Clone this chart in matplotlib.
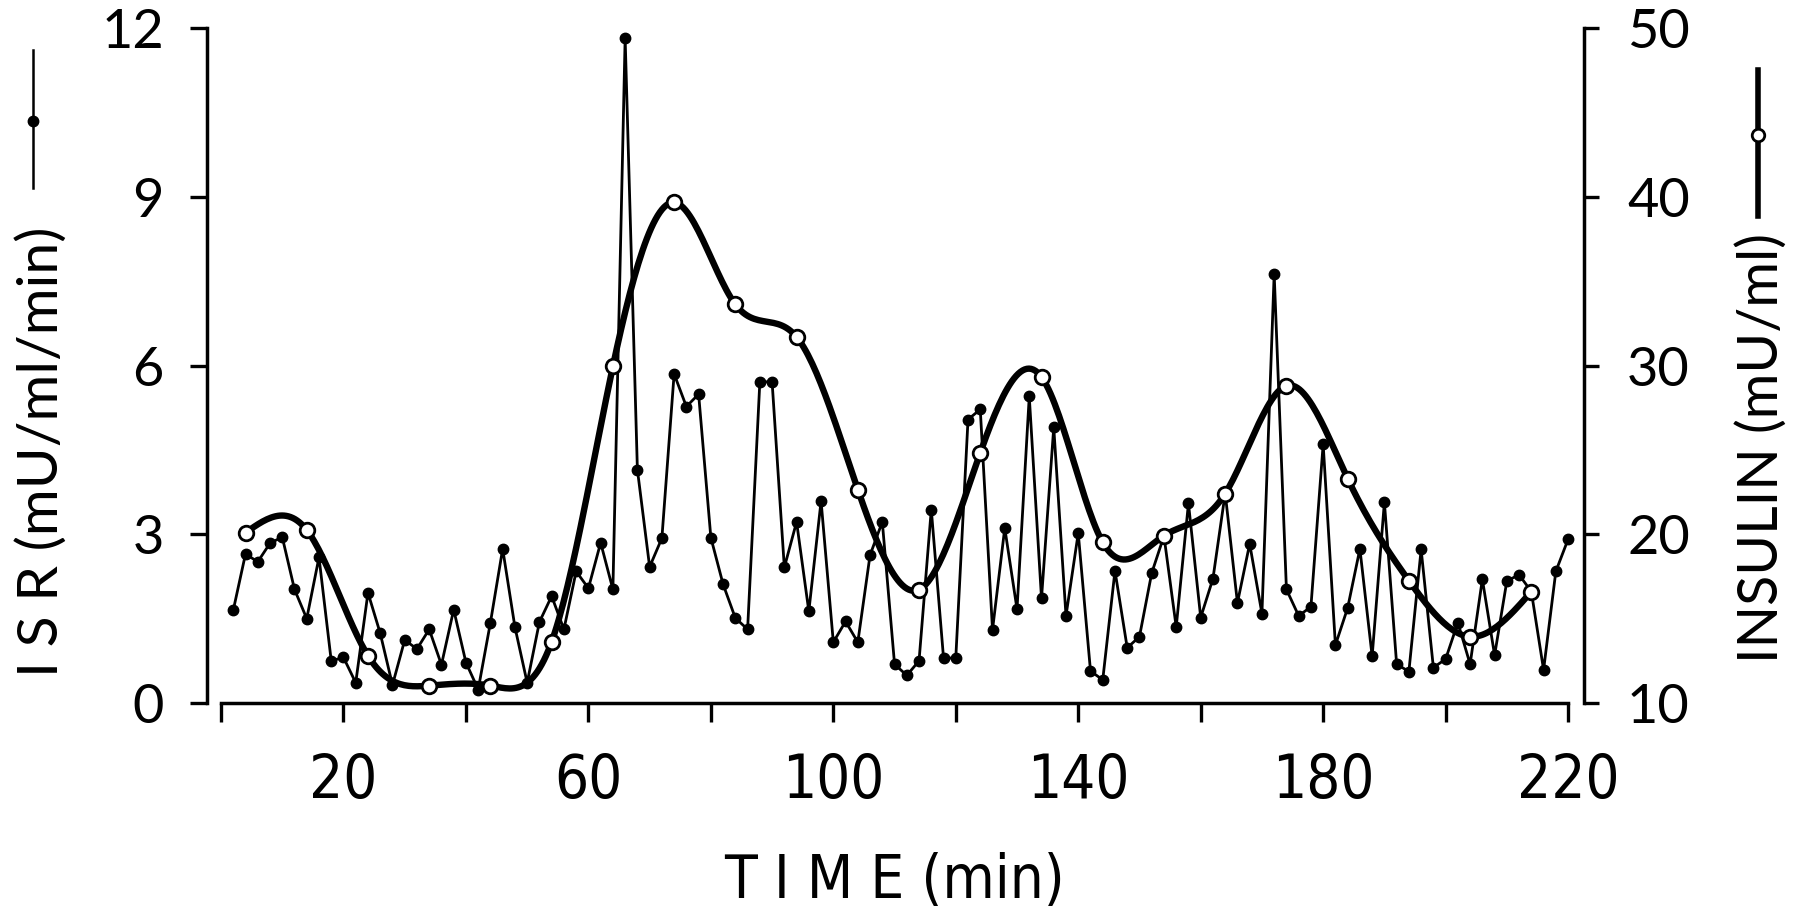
"""ISR and plasma insulin vs time, two y-axes (ISR left, insulin right)."""

import numpy as np
import matplotlib
matplotlib.use("Agg")
import matplotlib.pyplot as plt
from matplotlib import font_manager
from matplotlib.lines import Line2D

# ---- data ----
ISR_T = list(range(2, 221, 2))
ISR = [1.65, 2.65, 2.51, 2.84, 2.95, 2.02, 1.50, 2.59, 0.75, 0.81,
       0.36, 1.96, 1.24, 0.32, 1.12, 0.96, 1.31, 0.68, 1.66, 0.72,
       0.24, 1.43, 2.74, 1.35, 0.36, 1.44, 1.90, 1.31, 2.34, 2.04,
       2.85, 2.02, 11.82, 4.15, 2.42, 2.93, 5.85, 5.27, 5.49, 2.94,
       2.11, 1.51, 1.31, 5.71, 5.71, 2.41, 3.22, 1.63, 3.59, 1.08,
       1.45, 1.08, 2.63, 3.22, 0.69, 0.49, 0.75, 3.44, 0.80, 0.80,
       5.04, 5.22, 1.30, 3.11, 1.67, 5.45, 1.86, 4.90, 1.55, 3.02,
       0.57, 0.41, 2.35, 0.98, 1.18, 2.31, 2.97, 1.35, 3.55, 1.52,
       2.21, 3.73, 1.78, 2.83, 1.59, 7.63, 2.02, 1.55, 1.71, 4.60,
       1.03, 1.69, 2.74, 0.83, 3.57, 0.69, 0.56, 2.73, 0.63, 0.78,
       1.43, 0.69, 2.20, 0.85, 2.17, 2.28, 1.98, 0.59, 2.34, 2.91]

INS_T = list(range(4, 215, 10))
INSULIN = [20.09, 20.25, 12.80, 11.03, 11.03, 13.63, 29.95, 39.66, 33.62, 31.69,
           22.65, 16.72, 24.83, 29.32, 19.52, 19.92, 22.41, 28.80, 23.30, 17.25,
           13.93, 16.60]

XTICKS = list(range(0, 221, 20))
XTICK_LABELS = ["", "20", "", "60", "", "100", "", "140", "", "180", "", "220"]
YTICKS_ISR = [0, 3, 6, 9, 12]
YTICKS_INS = [10, 20, 30, 40, 50]

W, H = 1800, 923

fonts = font_manager.fontManager.ttflist
names = {f.name for f in fonts}
if "Liberation Sans Narrow" in names:
    NARROW = dict(family="Liberation Sans Narrow")
elif any(f.name == "DejaVu Sans" and f.stretch == "condensed" for f in fonts):
    NARROW = dict(family="DejaVu Sans", stretch="condensed")
else:
    NARROW = dict(family="Roboto")
ROUND = "Lato" if "Lato" in names else "DejaVu Sans"


def natural_spline(x, y, n=600):
    x = np.asarray(x, float)
    y = np.asarray(y, float)
    h = np.diff(x)
    m = len(x)
    A = np.zeros((m, m))
    b = np.zeros(m)
    A[0, 0] = A[-1, -1] = 1.0
    for i in range(1, m - 1):
        A[i, i - 1] = h[i - 1]
        A[i, i] = 2 * (h[i - 1] + h[i])
        A[i, i + 1] = h[i]
        b[i] = 6 * ((y[i + 1] - y[i]) / h[i] - (y[i] - y[i - 1]) / h[i - 1])
    M = np.linalg.solve(A, b)
    xs = np.linspace(x[0], x[-1], n)
    k = np.clip(np.searchsorted(x, xs) - 1, 0, m - 2)
    hk = x[k + 1] - x[k]
    a = (x[k + 1] - xs) / hk
    c = (xs - x[k]) / hk
    ys = a * y[k] + c * y[k + 1] + ((a ** 3 - a) * M[k] + (c ** 3 - c) * M[k + 1]) * hk ** 2 / 6
    return xs, ys


fig = plt.figure(figsize=(W / 100, H / 100), dpi=100)
ax = fig.add_axes([207 / W, 1 - 703 / H, (1584 - 207) / W, (703 - 28) / H])
ax.set_xlim(-2.29, 222.6)
ax.set_ylim(0, 12)

ax2 = ax.twinx()
ax2.set_ylim(10, 50)

# ISR: thin line, filled dots
ax.plot(ISR_T, ISR, color="black", lw=2.0, marker="o", ms=7.5, mfc="black",
        mec="black", zorder=3, clip_on=False)

# insulin: thick smoothed line through open circles
sx, sy = natural_spline(INS_T, INSULIN)
ax2.plot(sx, sy, color="black", lw=4.6, zorder=3, solid_capstyle="round")
ax2.plot(INS_T, INSULIN, "o", ms=10.5, mfc="white", mec="black", mew=2.0, zorder=4)

for s in ("top", "right"):
    ax.spines[s].set_visible(False)
for s in ("top", "left", "bottom"):
    ax2.spines[s].set_visible(False)
ax.spines["bottom"].set_bounds(0, 220)
for sp in (ax.spines["left"], ax.spines["bottom"], ax2.spines["right"]):
    sp.set_linewidth(2.5)

ax.set_xticks(XTICKS, XTICK_LABELS, fontsize=43, **NARROW)
ax.set_yticks(YTICKS_ISR, [str(v) for v in YTICKS_ISR], fontfamily=ROUND, fontsize=39)
ax2.set_yticks(YTICKS_INS, [str(v) for v in YTICKS_INS], fontfamily=ROUND, fontsize=39)
ax.tick_params(axis="x", direction="out", length=13.5, width=2.4, pad=22)
ax.tick_params(axis="y", direction="out", length=12, width=2.4, pad=19)
ax2.tick_params(axis="y", direction="out", length=11, width=2.4, pad=20)

fig.text(894 / W, 1 - 882 / H, "T I M E (min)", ha="center", va="center",
         fontsize=43, **NARROW)
fig.text(42 / W, 1 - 452 / H, "I S R (mU/ml/min)", rotation=90, ha="center",
         va="center", fontsize=41, family=ROUND)
fig.text(1762 / W, 1 - 448 / H, "INSULIN (mU/ml)", rotation=90, ha="center",
         va="center", fontsize=40, family=ROUND)

# little legend glyphs next to the axis titles
fig.add_artist(Line2D([33 / W, 33 / W], [1 - 188 / H, 1 - 50 / H], color="black", lw=1.8))
fig.add_artist(Line2D([33 / W], [1 - 121 / H], marker="o", ms=7.5, color="black"))
fig.add_artist(Line2D([1758 / W, 1758 / W], [1 - 216 / H, 1 - 70 / H], color="black", lw=4.0))
fig.add_artist(Line2D([1758 / W], [1 - 135 / H], marker="o", ms=9, mfc="white",
                      mec="black", mew=2.0))

fig.savefig("out.png", dpi=100, facecolor="white")
